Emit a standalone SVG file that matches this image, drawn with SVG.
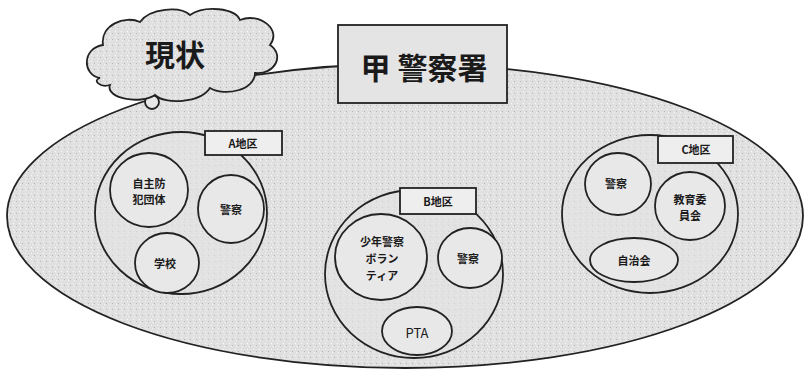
<svg xmlns="http://www.w3.org/2000/svg" width="809" height="382" viewBox="0 0 809 382">
<style>
.t{font-family:"Noto Sans CJK JP","Noto Sans",sans-serif;fill:#1a1a1a;text-anchor:middle;dominant-baseline:central}
.s{font-size:11px;font-weight:bold}
.line{stroke:#222;stroke-width:1.8}
.area{fill:#e2e2e2;stroke:#222;stroke-width:1.8}
.inner{fill:#e8e8e8;stroke:#222;stroke-width:1.8}
.lbl{fill:#eeeeee;stroke:#222;stroke-width:1.8}
</style>
<defs>
<pattern id="noise" width="6" height="6" patternUnits="userSpaceOnUse">
<rect width="6" height="6" fill="#e0e0e0"/>
<rect x="1" y="1" width="1" height="1" fill="#fafafa"/>
<rect x="4" y="3" width="1" height="1" fill="#b5b5b5"/>
<rect x="2" y="4" width="1" height="1" fill="#f4f4f4"/>
</pattern>
</defs>
<rect width="809" height="382" fill="#ffffff"/>
<g id="police-area">
<ellipse cx="405" cy="216" rx="398" ry="152" fill="url(#noise)" class="line"/>
</g>
<g id="cloud-genjo">
<circle cx="152" cy="102" r="7" fill="#e8e8e8" class="line"/>
<path d="M100 78 C82 75,82 48,103 45 C100 25,125 15,140 22 C150 8,180 6,190 15 C205 5,235 8,240 20 C260 12,282 30,270 45 C285 55,275 75,255 73 C255 90,225 97,210 88 C200 103,165 105,155 95 C140 105,105 98,110 85 C100 88,92 80,100 78 Z" fill="url(#noise)" class="line"/>
<text class="t" x="175" y="53" font-size="30" font-weight="bold">現状</text>
</g>
<g id="title-box">
<rect x="338" y="25" width="169" height="78" fill="#e4e4e4" class="line"/>
<text class="t" x="424" y="66" font-size="30" font-weight="bold">甲 警察署</text>
</g>
<g id="area-a">
<ellipse class="area" cx="181" cy="213" rx="86" ry="81" fill-opacity="0.6"/>
<rect class="lbl" x="205" y="131" width="77" height="24"/>
<text class="t s" x="243" y="143">A地区</text>
</g>
<g id="a-jishu">
<ellipse class="inner" cx="149" cy="190" rx="39" ry="37"/>
<text class="t s" x="149" y="183">自主防</text>
<text class="t s" x="149" y="199">犯団体</text>
</g>
<g id="a-police">
<ellipse class="inner" cx="231" cy="209" rx="33" ry="34"/>
<text class="t s" x="231" y="209">警察</text>
</g>
<g id="a-school">
<ellipse class="inner" cx="167" cy="263" rx="32" ry="30"/>
<text class="t s" x="165" y="263">学校</text>
</g>
<g id="area-b">
<ellipse class="area" cx="414" cy="274" rx="89" ry="84" fill-opacity="0.6"/>
<rect class="lbl" x="400" y="188" width="76" height="26"/>
<text class="t s" x="438" y="201">B地区</text>
</g>
<g id="b-volunteer">
<ellipse class="inner" cx="381" cy="257" rx="46" ry="43"/>
<text class="t s" x="382" y="241">少年警察</text>
<text class="t s" x="382" y="258">ボラン</text>
<text class="t s" x="382" y="275">ティア</text>
</g>
<g id="b-police">
<ellipse class="inner" cx="470" cy="258" rx="32" ry="30"/>
<text class="t s" x="468" y="258">警察</text>
</g>
<g id="b-pta">
<ellipse class="inner" cx="417" cy="331" rx="35" ry="24"/>
<text class="t" x="417" y="332" font-size="13">PTA</text>
</g>
<g id="area-c">
<ellipse class="area" cx="650" cy="214" rx="88" ry="79" fill-opacity="0.6"/>
<rect class="lbl" x="658" y="136" width="75" height="27"/>
<text class="t s" x="696" y="149">C地区</text>
</g>
<g id="c-police">
<ellipse class="inner" cx="618" cy="184" rx="33" ry="31"/>
<text class="t s" x="616" y="183">警察</text>
</g>
<g id="c-education">
<ellipse class="inner" cx="690" cy="206" rx="35" ry="34"/>
<text class="t s" x="690" y="199">教育委</text>
<text class="t s" x="690" y="215">員会</text>
</g>
<g id="c-jichikai">
<ellipse class="inner" cx="634" cy="260" rx="44" ry="22"/>
<text class="t s" x="634" y="260">自治会</text>
</g>
<g id="connectors"></g>
</svg>
